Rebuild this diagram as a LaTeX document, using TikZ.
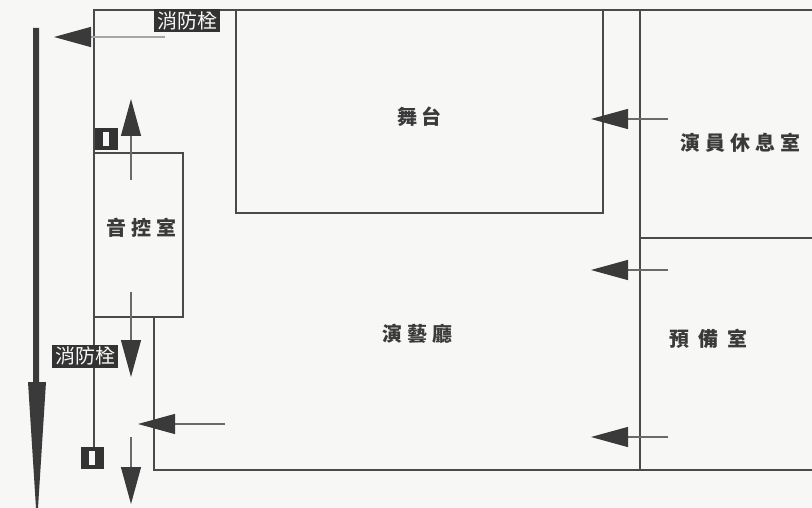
\documentclass[tikz,border=0pt]{standalone}
\usepackage{fontspec}
\newfontfamily\cjk{Noto Sans CJK TC}
\usetikzlibrary{arrows.meta}
\definecolor{paper}{HTML}{F7F7F5}
\definecolor{wall}{HTML}{4A4A4A}
\definecolor{ink}{HTML}{3A3A3A}
\definecolor{tag}{HTML}{333333}
\definecolor{shaft}{HTML}{6A6A6A}
\tikzset{
  wallline/.style={draw=wall,line width=1.1pt},
  roomlabel/.style={text=ink,font=\cjk\bfseries\fontsize{20}{20}\selectfont,inner sep=0pt},
  firetag/.style={fill=tag,text=paper,font=\cjk\fontsize{20}{20}\selectfont,inner sep=0pt,minimum width=66pt,minimum height=23pt},
  flow/.style={draw=shaft,line width=1.2pt,-{Triangle[length=37pt,width=20pt,color=ink,fill=ink]}},
  faintflow/.style={draw=shaft!60,line width=1.2pt,-{Triangle[length=37pt,width=20pt,color=ink,fill=ink]}},
  hosebox/.style={fill=tag,minimum width=23pt,minimum height=22pt,inner sep=0pt},
  hosecore/.style={fill=paper,minimum width=6pt,minimum height=14pt,inner sep=0pt}
}
\begin{document}
\begin{tikzpicture}[x=1pt,y=-1pt]
\useasboundingbox (0,0) rectangle (812,508);
\fill[paper] (0,0) rectangle (812,508);
% walls
\draw[wallline] (812,10) -- (94,10) -- (94,450);
\draw[wallline] (236,10) -- (236,213) -- (603,213) -- (603,10);
\draw[wallline] (94,153) rectangle (183,317);
\draw[wallline] (154,317) -- (154,470) -- (812,470);
\draw[wallline] (640,10) -- (640,470);
\draw[wallline] (640,238) -- (812,238);
% room labels
\node[roomlabel] (stage) at (419,117) {舞\hspace{4pt}台};
\node[roomlabel] (rest) at (740,143) {演\hspace{5pt}員\hspace{5pt}休\hspace{5pt}息\hspace{5pt}室};
\node[roomlabel] (sound) at (141,228) {音\hspace{5pt}控\hspace{5pt}室};
\node[roomlabel] (hall) at (417,334) {演\hspace{5pt}藝\hspace{5pt}廳};
\node[roomlabel] (spare) at (708,339) {預\hspace{9pt}備\hspace{9pt}室};
% fire hose tags and boxes
\node[firetag] (tagtop) at (187,21) {消防栓};
\node[firetag] (tagleft) at (85,356) {消防栓};
\node[hosebox] (boxa) at (106,139) {};
\node[hosecore] at (boxa) {};
\node[hosebox] (boxb) at (92,458) {};
\node[hosecore] at (boxb) {};
% arrows
\coordinate (a1s) at (165,37);  \coordinate (a1e) at (54,37);
\coordinate (a2s) at (131,180); \coordinate (a2e) at (131,99);
\coordinate (a3s) at (131,292); \coordinate (a3e) at (131,377);
\coordinate (a4s) at (131,437); \coordinate (a4e) at (131,504);
\coordinate (a5s) at (225,424); \coordinate (a5e) at (138,424);
\coordinate (a6s) at (668,119); \coordinate (a6e) at (591,119);
\coordinate (a7s) at (668,270); \coordinate (a7e) at (591,270);
\coordinate (a8s) at (668,437); \coordinate (a8e) at (591,437);
\draw[faintflow] (a1s) -- (a1e);
\draw[flow] (a2s) -- (a2e);
\draw[flow] (a3s) -- (a3e);
\draw[flow] (a4s) -- (a4e);
\draw[flow] (a5s) -- (a5e);
\draw[flow] (a6s) -- (a6e);
\draw[flow] (a7s) -- (a7e);
\draw[flow] (a8s) -- (a8e);
% main escape arrow
\fill[ink] (33,28) -- (39,28) -- (39,382) -- (46,382) -- (38,508) -- (36,508) -- (28,382) -- (33,382) -- cycle;
\end{tikzpicture}
\end{document}
